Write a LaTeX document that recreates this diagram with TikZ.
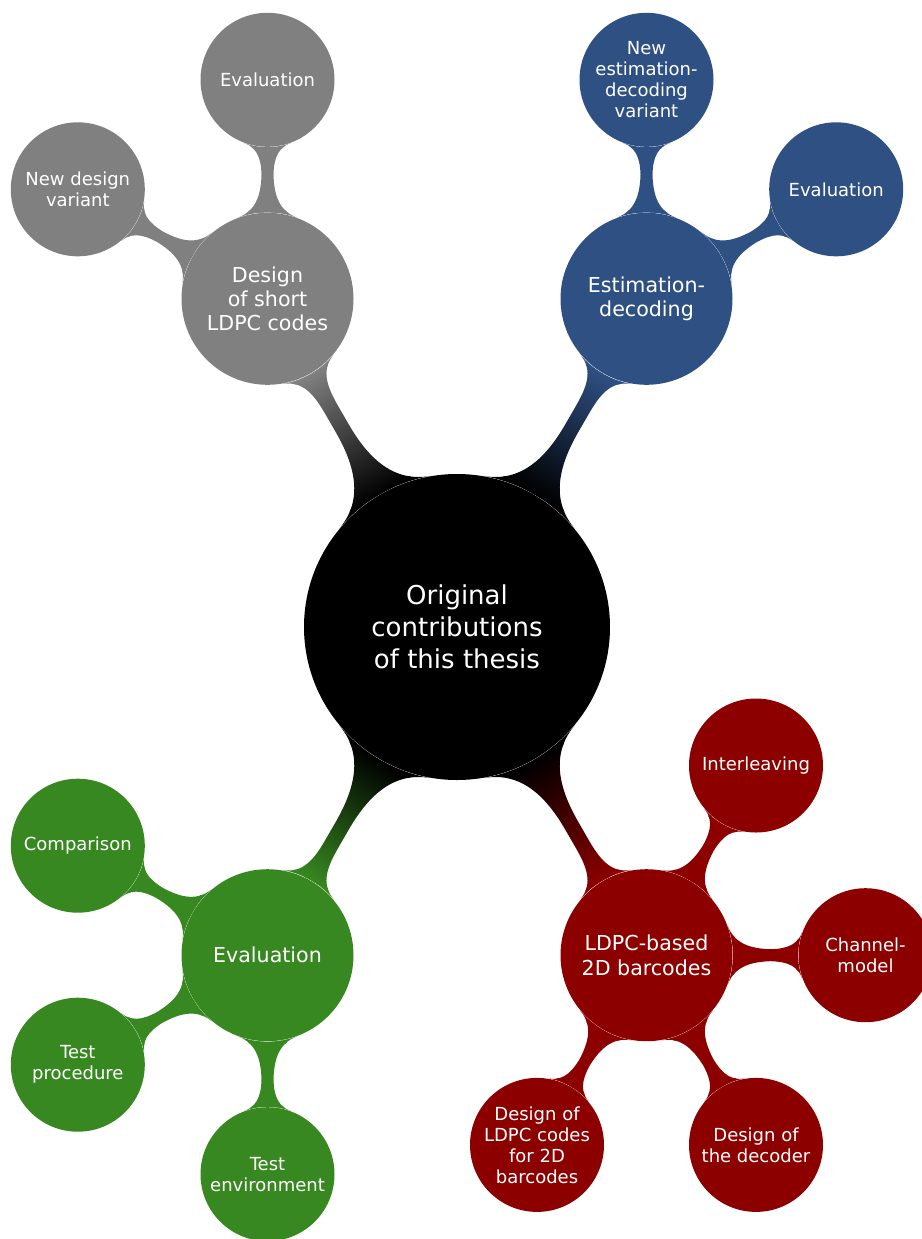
\documentclass[tikz,border=0pt]{standalone}
\usepackage{fontspec}
\setmainfont{DejaVu Sans}
\usetikzlibrary{mindmap}
\definecolor{cgray}{RGB}{128,128,128}
\definecolor{cblue}{RGB}{46,80,130}
\definecolor{cgreen}{RGB}{55,136,32}
\definecolor{cred}{RGB}{140,0,0}
\tikzset{
  bubble/.style={circle, fill=#1, text=white, inner sep=0pt, align=center},
  rootc/.style={bubble=black, minimum size=153pt, font=\fontsize{13}{16}\selectfont},
  lvlone/.style={bubble=#1, minimum size=86pt, font=\fontsize{10.3}{12.2}\selectfont},
  lvltwo/.style={bubble=#1, minimum size=67pt, font=\fontsize{9}{10.5}\selectfont},
  link/.style={circle connection bar switch color=#1}
}
\begin{document}
\begin{tikzpicture}[x=0.5pt,y=-0.5pt]
\useasboundingbox (0,0) rectangle (922,1239);
\node[rootc] (root) at (457,627) {Original\\contributions\\of this thesis};
% gray branch
\node[lvlone=cgray] (g1) at (267.5,298.8) {Design\\of short\\LDPC codes};
\node[lvltwo=cgray] (g1a) at (267.5,79.8) {Evaluation};
\node[lvltwo=cgray] (g1b) at (77.8,189.3) {New design\\variant};
% blue branch
\node[lvlone=cblue] (b1) at (646.5,298.8) {Estimation-\\decoding};
\node[lvltwo=cblue] (b1a) at (646.5,79.8) {New\\estimation-\\decoding\\variant};
\node[lvltwo=cblue] (b1b) at (836.2,189.3) {Evaluation};
% green branch
\node[lvlone=cgreen] (gr1) at (267.5,955.2) {Evaluation};
\node[lvltwo=cgreen] (gr1a) at (77.8,845.7) {Comparison};
\node[lvltwo=cgreen] (gr1b) at (77.8,1064.7) {Test\\procedure};
\node[lvltwo=cgreen] (gr1c) at (267.5,1174.2) {Test\\environment};
% red branch
\node[lvlone=cred] (r1) at (646.5,955.2) {LDPC-based\\2D barcodes};
\node[lvltwo=cred] (r1a) at (756,765.5) {Interleaving};
\node[lvltwo=cred] (r1b) at (865.5,955.2) {Channel-\\model};
\node[lvltwo=cred] (r1c) at (756,1144.9) {Design of\\the decoder};
\node[lvltwo=cred] (r1d) at (537,1144.9) {Design of\\LDPC codes\\for 2D\\barcodes};
% connection bars
\path (root) to[link=from (black) to (cgray)] (g1);
\path (root) to[link=from (black) to (cblue)] (b1);
\path (root) to[link=from (black) to (cgreen)] (gr1);
\path (root) to[link=from (black) to (cred)] (r1);
\path (g1) to[link=from (cgray) to (cgray)] (g1a);
\path (g1) to[link=from (cgray) to (cgray)] (g1b);
\path (b1) to[link=from (cblue) to (cblue)] (b1a);
\path (b1) to[link=from (cblue) to (cblue)] (b1b);
\path (gr1) to[link=from (cgreen) to (cgreen)] (gr1a);
\path (gr1) to[link=from (cgreen) to (cgreen)] (gr1b);
\path (gr1) to[link=from (cgreen) to (cgreen)] (gr1c);
\path (r1) to[link=from (cred) to (cred)] (r1a);
\path (r1) to[link=from (cred) to (cred)] (r1b);
\path (r1) to[link=from (cred) to (cred)] (r1c);
\path (r1) to[link=from (cred) to (cred)] (r1d);
\end{tikzpicture}
\end{document}
